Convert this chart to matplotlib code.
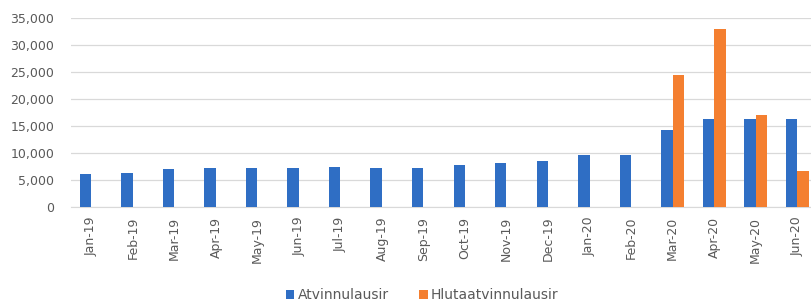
import matplotlib.pyplot as plt
import numpy as np

# Data
months = ['Jan-19', 'Feb-19', 'Mar-19', 'Apr-19', 'May-19', 'Jun-19',
          'Jul-19', 'Aug-19', 'Sep-19', 'Oct-19', 'Nov-19', 'Dec-19',
          'Jan-20', 'Feb-20', 'Mar-20', 'Apr-20', 'May-20', 'Jun-20']
atvinnulausir = [6100, 6200, 7000, 7200, 7200, 7200,
                 7300, 7200, 7200, 7700, 8200, 8450,
                 9600, 9600, 14200, 16350, 16200, 16200]
hlutaatvinnulausir = [0, 0, 0, 0, 0, 0,
                      0, 0, 0, 0, 0, 0,
                      0, 0, 24400, 32850, 17100, 6700]

blue = '#2F6EC4'
orange = '#F47F30'
grey_text = '#595959'

fig = plt.figure(figsize=(8.12, 3.07), dpi=100)
# plot area runs a bit past the right edge, like the cropped original
ax = fig.add_axes([0.0871, 0.326, 0.92, 0.616])

x = np.arange(len(months))
w = 0.277
ax.bar(x - w / 2, atvinnulausir, w, color=blue, label='Atvinnulausir', zorder=3)
ax.bar(x + w / 2, hlutaatvinnulausir, w, color=orange, label='Hlutaatvinnulausir', zorder=3)

ax.set_xlim(-0.5, len(months) - 0.5)
ax.set_ylim(0, 35000)
ax.set_yticks(np.arange(0, 35001, 5000))
ax.set_yticklabels([f'{v:,}' for v in range(0, 35001, 5000)])
ax.set_xticks(x)
ax.set_xticklabels(months, rotation=90)

ax.grid(axis='y', color='#D9D9D9', linewidth=0.9, zorder=0)
for s in ['top', 'right', 'left']:
    ax.spines[s].set_visible(False)
ax.spines['bottom'].set_color('#D9D9D9')
ax.tick_params(axis='both', length=0, colors=grey_text, labelsize=9)
ax.tick_params(axis='y', pad=12)
ax.tick_params(axis='x', pad=7)

fig.legend(loc='lower center', bbox_to_anchor=(0.52, -0.025), ncol=2, frameon=False,
           fontsize=10, handlelength=0.6, handleheight=0.6, columnspacing=2.2,
           handletextpad=0.25, labelcolor=grey_text)

fig.savefig('out.png', dpi=100)
